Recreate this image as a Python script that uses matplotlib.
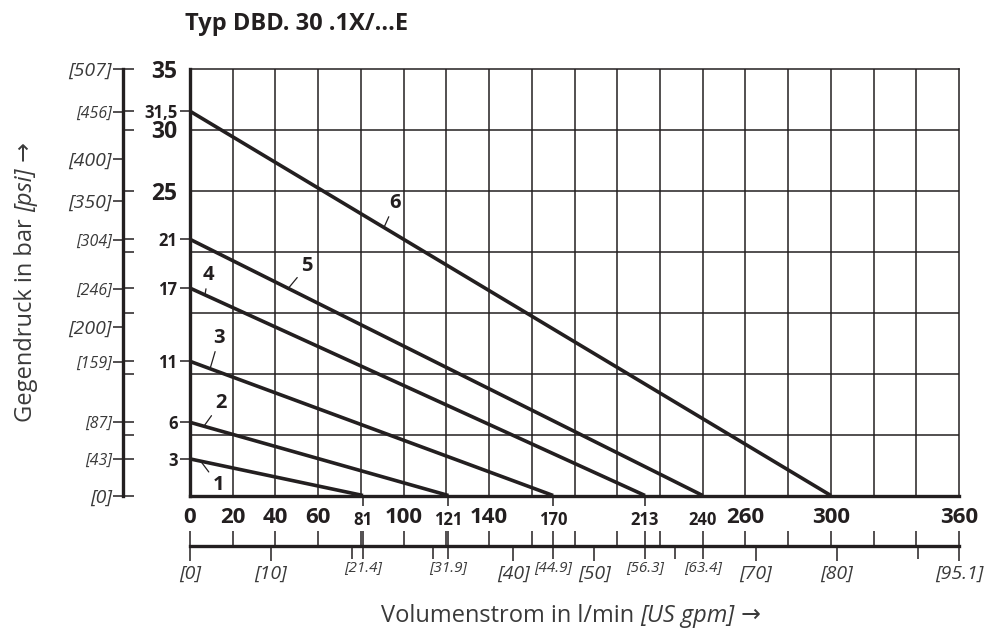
import numpy as np
import matplotlib
matplotlib.use("Agg")
import matplotlib.pyplot as plt

plt.rcParams['font.family'] = ['Open Sans', 'DejaVu Sans']

INK = '#231f20'
GREY = '#3a3a3a'

# characteristic lines: pressure at zero flow (bar) and max flow (l/min)
line_ids = ['1', '2', '3', '4', '5', '6']
p_start = [3, 6, 11, 17, 21, 31.5]
q_end = [81, 121, 170, 213, 240, 300]

# curve label positions (data units) and flow where the leader hits the line
lab_x = [13.2, 14.4, 13.7, 8.6, 54.6, 96.0]
lab_y = [0.9, 7.6, 12.95, 18.1, 18.8, 24.0]
lead_x = [5.0, 6.5, 9.4, 7.0, 46.0, 90.8]

# axis ticks
x_big = [0, 20, 40, 60, 100, 140, 260, 300, 360]
x_small = [81, 121, 170, 213, 240]
y_big = [25, 30, 35]
y_small = [3, 6, 11, 17, 21, 31.5]

psi_big = [0, 200, 350, 400, 507]
psi_small = [43, 87, 159, 246, 304, 456]

gpm_big = [0, 10, 40, 50, 70, 80, 95.1]
gpm_small = [21.4, 31.9, 44.9, 56.3, 63.4]
gpm_plain = [20, 30, 60, 90]
lmin_ticks = list(range(0, 361, 20)) + [81, 121, 170, 213]

PSI_PER_BAR = 14.5038
LMIN_PER_GPM = 3.785411784

W, H = 987, 629
fig = plt.figure(figsize=(W / 100, H / 100), dpi=100)
renderer = fig.canvas.get_renderer()


def label_run(parts, x0, y0, vertical=False, **kw):
    """write text parts one after another (pixels from top-left), centred on x0/y0"""
    texts = []
    total = 0
    for s, style in parts:
        t = fig.text(0, 0, s, fontstyle=style, rotation=90 if vertical else 0,
                     rotation_mode='anchor', ha='left', va='baseline', **kw)
        bb = t.get_window_extent(renderer)
        size = bb.height if vertical else bb.width
        texts.append((t, size))
        total += size
    pos = -total / 2
    for t, size in texts:
        if vertical:
            t.set_position((x0 / W, 1 - y0 / H + pos / H))
        else:
            t.set_position((x0 / W + pos / W, 1 - y0 / H))
        pos += size


left, right = 190, 959
top, bottom = 68.5, 495.5
ax = fig.add_axes([left / W, 1 - bottom / H, (right - left) / W, (bottom - top) / H])
ax.set_xlim(0, 360)
ax.set_ylim(0, 35)

# grid
for gx in range(20, 360, 20):
    ax.axvline(gx, color=INK, lw=1.1, zorder=1)
for gy in range(5, 35, 5):
    ax.axhline(gy, color=INK, lw=1.1, zorder=1)

for p, q in zip(p_start, q_end):
    ax.plot([0, q], [p, 0], color=INK, lw=2.6, solid_capstyle='butt', zorder=3)

for i, name in enumerate(line_ids):
    xq = lead_x[i]
    yq = p_start[i] * (1 - xq / q_end[i])
    ax.annotate(name, xy=(xq, yq), xytext=(lab_x[i], lab_y[i]),
                ha='center', va='center', fontsize=14.5, fontweight='bold', color=INK,
                arrowprops=dict(arrowstyle='-', lw=0.9, color=INK, shrinkA=1, shrinkB=0),
                zorder=4)

for s in ['left', 'bottom']:
    ax.spines[s].set_linewidth(2.4)
for s in ['top', 'right']:
    ax.spines[s].set_linewidth(1.1)
for s in ax.spines.values():
    s.set_color(INK)

ax.set_xticks(x_big)
ax.set_xticklabels([str(v) for v in x_big])
ax.set_xticks(x_small, minor=True)
ax.set_xticklabels([str(v) for v in x_small], minor=True)
ax.tick_params(axis='x', which='major', length=0, pad=8, labelsize=16, colors=INK)
ax.tick_params(axis='x', which='minor', length=7, width=1.1, pad=4, labelsize=12, colors=INK)
ax.xaxis.get_minor_ticks()[-1].tick1line.set_visible(False)

ax.set_yticks(y_small)
ax.set_yticklabels([f"{v:g}".replace('.', ',') for v in y_small])
ax.set_yticks(y_big, minor=True)
ax.set_yticklabels([str(v) for v in y_big], minor=True)
ax.tick_params(axis='y', which='major', length=7, width=1.1, pad=2, labelsize=12, colors=INK)
ax.tick_params(axis='y', which='minor', length=0, pad=9, labelsize=16.5, colors=INK)
for t in ax.get_xticklabels(which='both') + ax.get_yticklabels(which='both'):
    t.set_fontweight('bold')

# psi scale on the left
box = ax.get_position()
axp = fig.add_axes([123 / W, box.y0, 0.001, box.height])
axp.set_ylim(0, 35)
axp.set_xticks([])
for s in ['top', 'right', 'bottom']:
    axp.spines[s].set_visible(False)
axp.spines['left'].set_linewidth(2.4)
axp.spines['left'].set_color(INK)
axp.patch.set_visible(False)
axp.set_yticks([v / PSI_PER_BAR for v in psi_big])
axp.set_yticklabels([f"[{v}]" for v in psi_big], fontstyle='italic')
axp.set_yticks([v / PSI_PER_BAR for v in psi_small], minor=True)
axp.set_yticklabels([f"[{v}]" for v in psi_small], minor=True, fontstyle='italic')
axp.tick_params(axis='y', which='major', length=7, width=1.1, pad=1, labelsize=14,
                color=INK, labelcolor=GREY)
axp.tick_params(axis='y', which='minor', length=7, width=1.1, pad=1, labelsize=11.5,
                color=INK, labelcolor=GREY)

# bar ticks pointing right off the psi scale
axp2 = fig.add_axes([123 / W, box.y0, 0.001, box.height])
axp2.set_ylim(0, 35)
axp2.set_xticks([])
for s in axp2.spines.values():
    s.set_visible(False)
axp2.patch.set_visible(False)
axp2.set_yticks(list(range(0, 36, 5)) + y_small)
axp2.tick_params(axis='y', direction='in', length=8, width=1.1, labelleft=False, color=INK)

# gpm scale at the bottom
yb = 545.7
axb = fig.add_axes([box.x0, 1 - yb / H, box.width, 0.001])
axb.set_xlim(0, 360)
axb.set_yticks([])
for s in ['top', 'right', 'left']:
    axb.spines[s].set_visible(False)
axb.spines['bottom'].set_linewidth(2.4)
axb.spines['bottom'].set_color(INK)
axb.patch.set_visible(False)
axb.set_xticks([v * LMIN_PER_GPM for v in gpm_big])
axb.set_xticklabels([f"[{v:g}]" for v in gpm_big], fontstyle='italic')
axb.set_xticks([v * LMIN_PER_GPM for v in gpm_small + gpm_plain], minor=True)
axb.set_xticklabels([f"[{v:g}]" for v in gpm_small] + [''] * len(gpm_plain),
                    minor=True, fontstyle='italic')
axb.tick_params(axis='x', which='major', length=11, width=1.1, pad=3, labelsize=14,
                color=INK, labelcolor=GREY)
axb.tick_params(axis='x', which='minor', length=9, width=1.1, pad=1, labelsize=11,
                color=INK, labelcolor=GREY)

# l/min ticks pointing up off the gpm scale
axb2 = fig.add_axes([box.x0, 1 - yb / H, box.width, 0.001])
axb2.set_xlim(0, 360)
axb2.set_yticks([])
for s in axb2.spines.values():
    s.set_visible(False)
axb2.patch.set_visible(False)
axb2.set_xticks(lmin_ticks)
axb2.tick_params(axis='x', direction='in', length=10.5, width=1.1, labelbottom=False, color=INK)

fig.text(185 / W, 1 - 30 / H, "Typ DBD. 30 .1X/...E", fontsize=17, fontweight='bold',
         color=INK, ha='left', va='baseline')

label_run([("Volumenstrom in l/min ", 'normal'), ("[US gpm]", 'italic'), (" →", 'normal')],
          571, 622, fontsize=17, color=GREY)
label_run([("Gegendruck in bar ", 'normal'), ("[psi]", 'italic'), (" →", 'normal')],
          32, 282, vertical=True, fontsize=17, color=GREY)

fig.savefig("out.png", dpi=100)
